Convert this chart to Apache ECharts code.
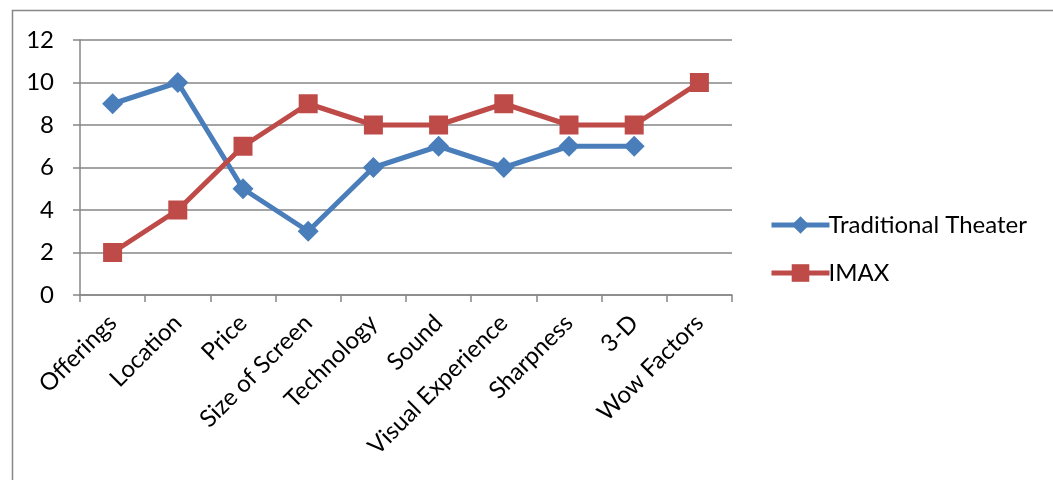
<!DOCTYPE html>
<html><head><meta charset="utf-8">
<script src="https://cdn.jsdelivr.net/npm/echarts@6/dist/echarts.min.js"></script>
<style>html,body{margin:0;padding:0;background:#fff}#c{width:1053px;height:480px}</style>
</head><body><div id="c"></div>
<script>
const categories = ["Offerings","Location","Price","Size of Screen","Technology","Sound","Visual Experience","Sharpness","3-D","Wow Factors"];
const traditional = [9,10,5,3,6,7,6,7,7,null];
const imax = [2,4,7,9,8,8,9,8,8,10];
const yTicks = [0,2,4,6,8,10,12];
const FONT = "Lato";
const chart = echarts.init(document.getElementById('c'), null, {renderer:'canvas'});
chart.setOption({
  animation:false,
  backgroundColor:'#fff',
  graphic:[{type:'rect',shape:{x:12.5,y:10.5,width:1100,height:500},style:{fill:'none',stroke:'#878787',lineWidth:1.5},silent:true}],
  grid:{left:80,top:40,width:652,height:255,containLabel:false},
  legend:{orient:'vertical',left:764,top:208,itemGap:24,itemWidth:58,itemHeight:22,
    lineStyle:{width:5},
    textStyle:{fontFamily:FONT,fontSize:24,color:'#000',padding:[0,0,0,-6]},
    data:['Traditional Theater','IMAX']},
  xAxis:{type:'category',data:categories,boundaryGap:true,
    axisLine:{lineStyle:{color:'#868686',width:1.5}},
    axisTick:{show:true,length:7,alignWithLabel:false,lineStyle:{color:'#868686',width:1.5}},
    axisLabel:{rotate:45,interval:0,margin:24,fontFamily:FONT,fontSize:24,color:'#000'}},
  yAxis:{type:'value',min:0,max:12,interval:2,
    axisLine:{show:true,lineStyle:{color:'#868686',width:1.5}},
    axisTick:{show:true,length:7,lineStyle:{color:'#868686',width:1.5}},
    splitLine:{lineStyle:{color:'#868686',width:1.5}},
    axisLabel:{margin:26,fontFamily:FONT,fontSize:24,color:'#000',
      formatter:v=>yTicks.includes(v)?String(v):''}},
  series:[
    {name:'Traditional Theater',type:'line',data:traditional,connectNulls:false,
     symbol:'diamond',symbolSize:21,color:'#4A7EBB',
     lineStyle:{width:5,color:'#4A7EBB'},itemStyle:{color:'#4A7EBB'}},
    {name:'IMAX',type:'line',data:imax,
     symbol:'rect',symbolSize:19,color:'#BE4B48',
     lineStyle:{width:5,color:'#BE4B48'},itemStyle:{color:'#BE4B48'}}
  ]
});
</script></body></html>
